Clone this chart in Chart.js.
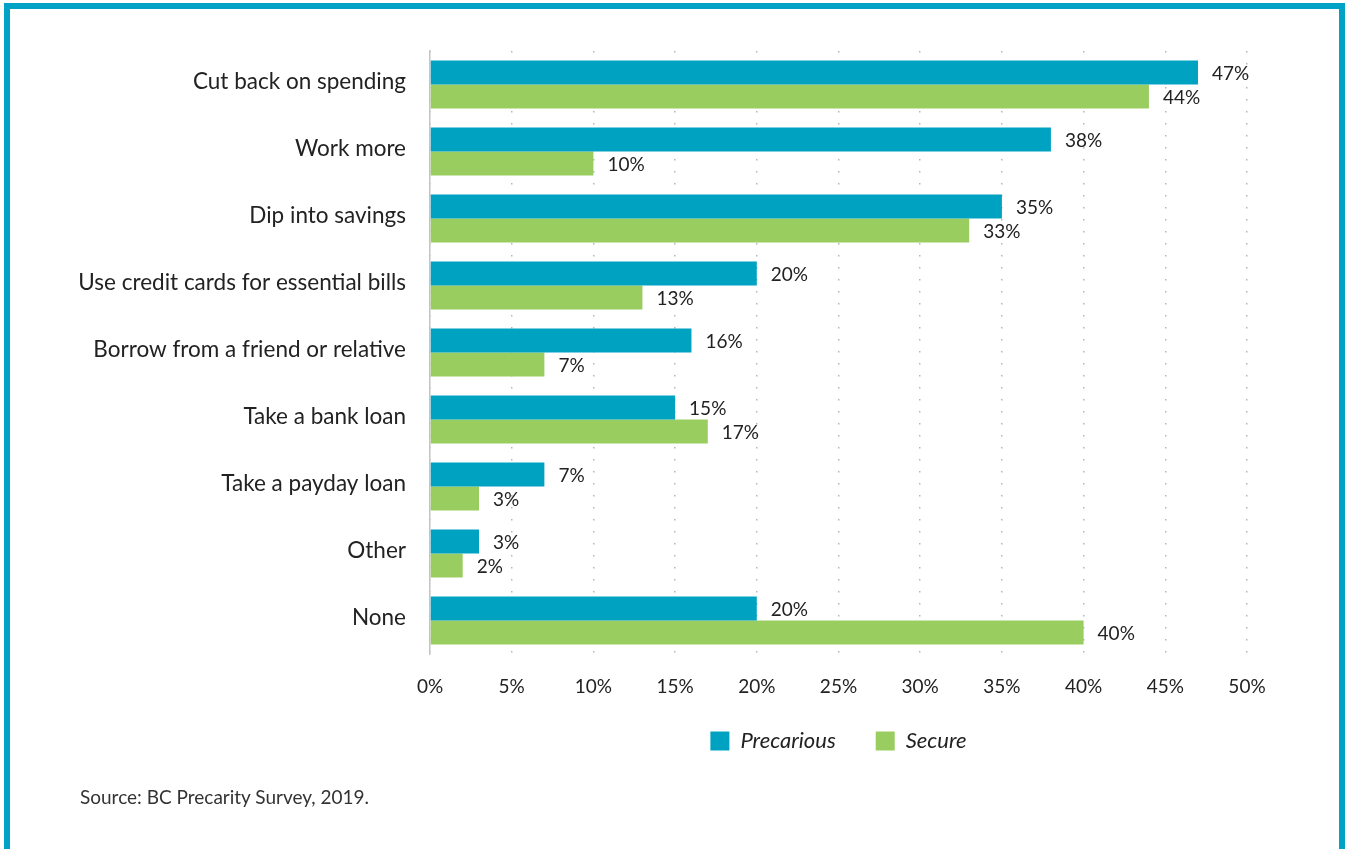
<!DOCTYPE html>
<html>
<head>
<meta charset="utf-8">
<script src="https://cdn.jsdelivr.net/npm/chart.js@4.4.1/dist/chart.umd.min.js"></script>
<style>
  html, body { margin: 0; padding: 0; background: #fff; }
  body { width: 1345px; height: 849px; position: relative; overflow: hidden; font-family: Lato, "Open Sans", sans-serif; }
  .frame {
    position: absolute; left: 4px; top: 3px; width: 1329px; height: 900px;
    border: 6px solid #00a3c6; border-bottom: none;
  }
  #chart { position: absolute; left: 0; top: 0; }
  .source { position: absolute; left: 80px; top: 785px; font-size: 19px; color: #333; }
</style>
</head>
<body>
<div class="frame"></div>
<canvas id="chart" width="1345" height="849"></canvas>
<div class="source">Source: BC Precarity Survey, 2019.</div>
<script>
const categories = [
  'Cut back on spending',
  'Work more',
  'Dip into savings',
  'Use credit cards for essential bills',
  'Borrow from a friend or relative',
  'Take a bank loan',
  'Take a payday loan',
  'Other',
  'None'
];
const precarious = [47, 38, 35, 20, 16, 15, 7, 3, 20];
const secure = [44, 10, 33, 13, 7, 17, 3, 2, 40];
const xTicks = [0, 5, 10, 15, 20, 25, 30, 35, 40, 45, 50];

const TEAL = '#00a2c2';
const GREEN = '#9acd60';
const FONT = 'Lato, "Open Sans", sans-serif';

// writes "47%" etc. just past the end of every bar
const valueLabels = {
  id: 'valueLabels',
  afterDatasetsDraw(chart) {
    const ctx = chart.ctx;
    ctx.save();
    ctx.font = '19px ' + FONT;
    ctx.fillStyle = '#222';
    ctx.textAlign = 'left';
    ctx.textBaseline = 'middle';
    chart.data.datasets.forEach((ds, i) => {
      chart.getDatasetMeta(i).data.forEach((bar, j) => {
        ctx.fillText(ds.data[j] + '%', bar.x + 14, bar.y + 1);
      });
    });
    ctx.restore();
  }
};

// the wide item gap also pads the legend vertically; pull it back up a bit
const legendLift = {
  id: 'legendLift',
  afterLayout(chart) {
    if (chart.legend) {
      chart.legend.top -= 14;
      chart.legend.bottom -= 14;
    }
  }
};

new Chart(document.getElementById('chart'), {
  type: 'bar',
  data: {
    labels: categories,
    datasets: [
      { label: 'Precarious', data: precarious, backgroundColor: TEAL, borderWidth: 0 },
      { label: 'Secure', data: secure, backgroundColor: GREEN, borderWidth: 0 }
    ]
  },
  options: {
    indexAxis: 'y',
    responsive: false,
    animation: false,
    categoryPercentage: 0.715,
    barPercentage: 1.0,
    layout: { padding: { top: 51, right: 98, left: 0, bottom: 73 } },
    scales: {
      x: {
        min: 0,
        max: 50,
        afterBuildTicks(scale) {
          scale.ticks = xTicks.map(v => ({ value: v }));
        },
        afterFit(scale) { scale.height = 50; },
        grid: { color: '#b5b5b5', lineWidth: 1.5, drawTicks: false },
        border: { display: false, dash: [1.5, 10.5] },
        ticks: {
          padding: 21,
          color: '#222',
          font: { family: FONT, size: 19 },
          callback: v => v + '%'
        }
      },
      y: {
        afterFit(scale) { scale.width = 430; },
        grid: { display: false, drawTicks: false },
        border: { display: true, color: '#c4c4c4', width: 1.5 },
        ticks: {
          padding: 24,
          labelOffset: -3,
          color: '#222',
          font: { family: FONT, size: 22.5 }
        }
      }
    },
    plugins: {
      legend: {
        position: 'bottom',
        fullSize: false,
        labels: {
          boxWidth: 19,
          boxHeight: 19,
          padding: 40,
          color: '#222',
          font: { family: FONT, size: 22, style: 'italic' }
        }
      },
      tooltip: { enabled: false }
    }
  },
  plugins: [valueLabels, legendLift]
});
</script>
</body>
</html>
